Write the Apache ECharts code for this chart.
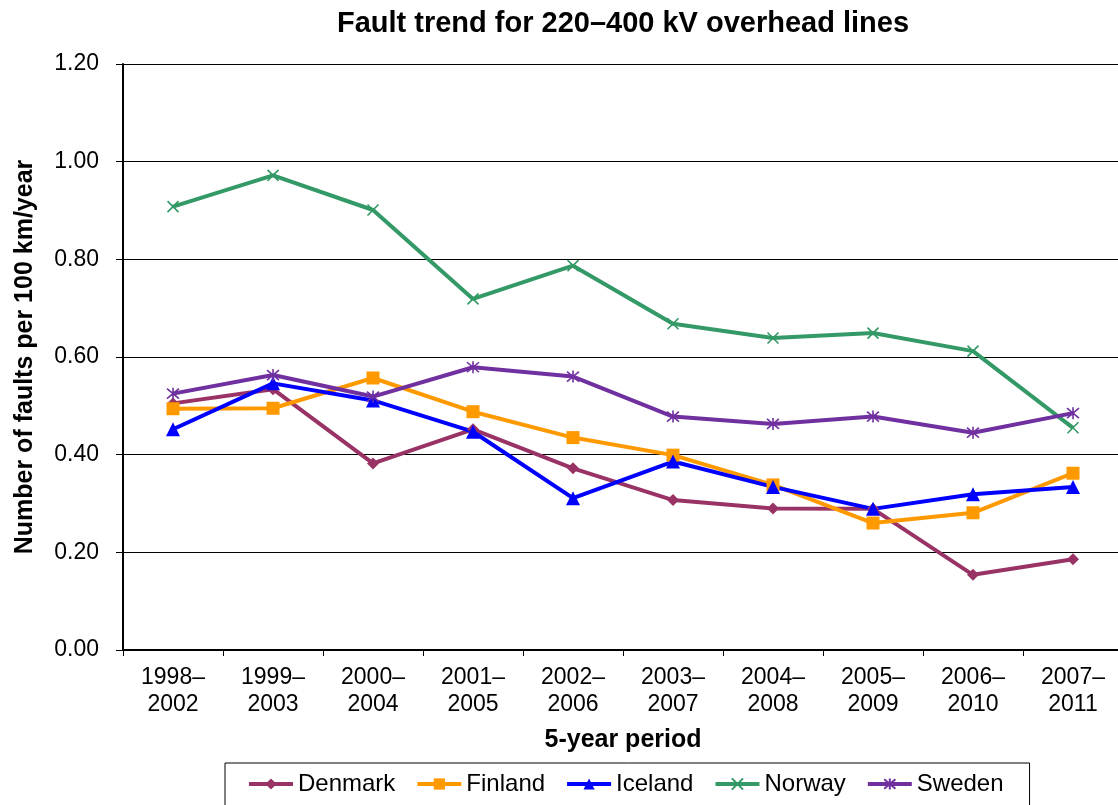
<!DOCTYPE html>
<html>
<head>
<meta charset="utf-8">
<script src="https://cdn.jsdelivr.net/npm/echarts@6/dist/echarts.min.js"></script>
<style>
  html, body { margin: 0; padding: 0; background: #fff; }
  #chart { width: 1118px; height: 805px; }
</style>
</head>
<body>
<div id="chart"></div>
<script>
  // categories and values
  var periods = ['1998–\n2002', '1999–\n2003', '2000–\n2004', '2001–\n2005', '2002–\n2006',
                 '2003–\n2007', '2004–\n2008', '2005–\n2009', '2006–\n2010', '2007–\n2011'];
  var denmark = [0.505, 0.534, 0.382, 0.452, 0.372, 0.307, 0.290, 0.289, 0.154, 0.186];
  var finland = [0.494, 0.495, 0.557, 0.488, 0.435, 0.399, 0.338, 0.260, 0.281, 0.362];
  var iceland = [0.452, 0.546, 0.511, 0.447, 0.311, 0.386, 0.334, 0.289, 0.319, 0.334];
  var norway  = [0.908, 0.972, 0.901, 0.719, 0.787, 0.668, 0.639, 0.649, 0.612, 0.455];
  var sweden  = [0.525, 0.563, 0.519, 0.579, 0.560, 0.478, 0.463, 0.478, 0.445, 0.485];
  var yTicks = [0, 0.2, 0.4, 0.6, 0.8, 1.0, 1.2];

  var crossPath = 'path://M0,0L10,10M10,0L0,10';
  var starPath = 'path://M0,0L10,10M10,0L0,10M5,-1L5,11';

  function makeSeries(name, data, color, symbol, size, stroked) {
    var s = {
      name: name,
      type: 'line',
      data: data,
      symbol: symbol,
      symbolSize: size,
      lineStyle: { color: color, width: 4 },
      itemStyle: { color: color },
      emphasis: { disabled: true },
      animation: false
    };
    if (stroked) {
      s.itemStyle = { color: 'rgba(0,0,0,0)', borderColor: color, borderWidth: 1.6 };
    }
    return s;
  }

  var myChart = echarts.init(document.getElementById('chart'));
  myChart.setOption({
    textStyle: { fontFamily: 'Liberation Sans, Arial, sans-serif' },
    title: {
      text: 'Fault trend for 220–400 kV overhead lines',
      left: 618,
      textAlign: 'center',
      top: 4,
      textStyle: { fontSize: 29, fontWeight: 'bold', color: '#000' }
    },
    legend: {
      top: 763,
      left: 225,
      width: 820,
      padding: [9, 26, 14, 22],
      borderColor: '#000',
      borderWidth: 1,
      itemGap: 20,
      itemWidth: 44,
      itemHeight: 14,
      lineStyle: { width: 4 },
      textStyle: { fontSize: 24, color: '#000' },
      data: ['Denmark', 'Finland', 'Iceland', 'Norway', 'Sweden']
    },
    grid: {
      left: 123,
      right: -5,
      top: 64,
      bottom: 155,
      containLabel: false,
      outerBoundsMode: 'none'
    },
    xAxis: {
      type: 'category',
      data: periods,
      name: '5-year period',
      nameLocation: 'middle',
      nameGap: 78,
      nameTextStyle: { fontSize: 25, fontWeight: 'bold', color: '#000' },
      axisLine: { lineStyle: { color: '#000', width: 2 } },
      axisTick: { show: true, length: 6, lineStyle: { color: '#000' } },
      axisLabel: { fontSize: 23, color: '#000', lineHeight: 27, margin: 14 }
    },
    yAxis: {
      type: 'value',
      min: 0,
      max: yTicks[yTicks.length - 1],
      interval: 0.2,
      name: 'Number of faults per 100 km/year',
      nameLocation: 'middle',
      nameGap: 85,
      nameTextStyle: { fontSize: 25, fontWeight: 'bold', color: '#000' },
      axisLine: { show: true, lineStyle: { color: '#000', width: 2 } },
      axisTick: { show: true, length: 7, lineStyle: { color: '#000' } },
      axisLabel: {
        fontSize: 23,
        color: '#000',
        margin: 24,
        formatter: function (v) { return v.toFixed(2); }
      },
      splitLine: { show: true, lineStyle: { color: '#000', width: 1 } }
    },
    series: [
      makeSeries('Denmark', denmark, '#993366', 'diamond', 12, false),
      makeSeries('Finland', finland, '#FF9900', 'rect', 13, false),
      makeSeries('Iceland', iceland, '#0000FF', 'triangle', 14, false),
      makeSeries('Norway', norway, '#339966', crossPath, 11, true),
      makeSeries('Sweden', sweden, '#7030A0', starPath, 12, true)
    ]
  });
</script>
</body>
</html>
